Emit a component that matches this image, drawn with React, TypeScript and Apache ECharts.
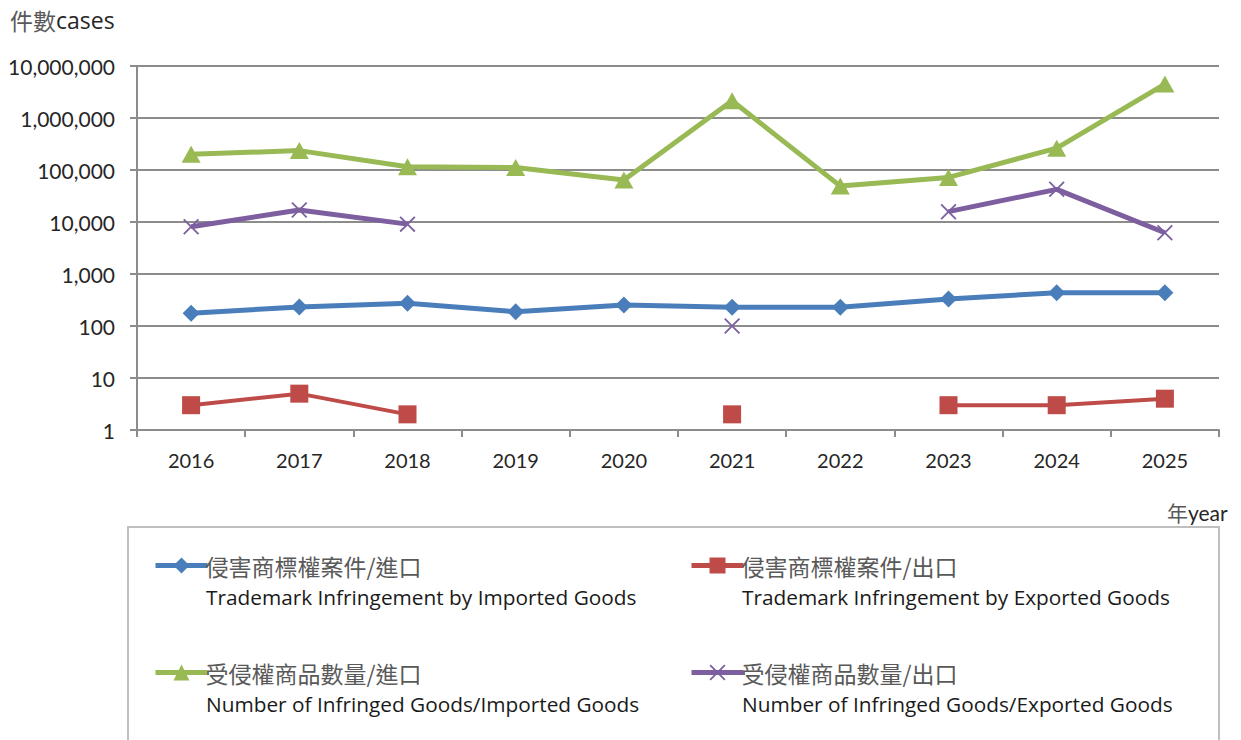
import React, { useEffect, useRef } from 'react';
import * as echarts from 'echarts';

const years = ['2016', '2017', '2018', '2019', '2020', '2021', '2022', '2023', '2024', '2025'];
const importCases = [175, 233, 274, 188, 253, 230, 230, 330, 436, 436];
const exportCases = [3, 5, 2, null, null, 2, null, 3, 3, 4];
const importGoods = [200000, 236000, 115000, 112000, 64000, 2150000, 49000, 72000, 263000, 4500000];
const exportGoods = [8100, 17000, 9100, null, null, 100, null, 15800, 42500, 6200];

const seriesNamesCn = ['侵害商標權案件/進口', '侵害商標權案件/出口', '受侵權商品數量/進口', '受侵權商品數量/出口'];
const seriesNamesEn = [
  'Trademark Infringement by Imported Goods',
  'Trademark Infringement by Exported Goods',
  'Number of Infringed Goods/Imported Goods',
  'Number of Infringed Goods/Exported Goods',
];
const colors = ['#4A7EBB', '#BE4B48', '#98B954', '#7D5FA0'];

const CROSS = 'path://M0,0.8L0.8,0L5,4.2L9.2,0L10,0.8L5.8,5L10,9.2L9.2,10L5,5.8L0.8,10L0,9.2L4.2,5Z';

const FONT = 'Lato, "Noto Sans", sans-serif';
const FONT2 = '"Open Sans", Lato, sans-serif';
const CJK = '"Noto Sans CJK TC", "Noto Sans CJK SC", sans-serif';

export default function App() {
  const ref = useRef<HTMLDivElement>(null);
  useEffect(() => {
    if (!ref.current) return;
    const chart = echarts.init(ref.current, null, { renderer: 'svg' });
    const legendPos = [
      { left: 153, top: 554 },
      { left: 689, top: 554 },
      { left: 153, top: 661 },
      { left: 689, top: 661 },
    ];
    const enPos = [
      { x: 206, y: 597 },
      { x: 742, y: 597 },
      { x: 206, y: 704 },
      { x: 742, y: 704 },
    ];
    const symbols = ['diamond', 'rect', 'triangle', CROSS];
    const symbolSizes = [[17, 17], [18, 18], [19, 17], [16, 16]];
    const lineWidths = [5, 4, 5, 5];
    const datas = [importCases, exportCases, importGoods, exportGoods];

    const option: any = {
      animation: false,
      backgroundColor: '#ffffff',
      grid: { left: 137, top: 66, width: 1082, height: 364, containLabel: false },
      xAxis: {
        type: 'category',
        data: years,
        boundaryGap: true,
        axisLine: { lineStyle: { color: '#8c8c8c', width: 2 } },
        axisTick: { show: true, length: 7, alignWithLabel: false, lineStyle: { color: '#8c8c8c', width: 2 } },
        axisLabel: { color: '#262626', fontSize: 20, fontFamily: FONT, margin: 20 },
        splitLine: { show: false },
      },
      yAxis: {
        type: 'log',
        logBase: 10,
        min: 1,
        max: 10000000,
        splitNumber: 7,
        axisLine: { show: true, lineStyle: { color: '#8c8c8c', width: 2 } },
        axisTick: { show: true, length: 7, lineStyle: { color: '#8c8c8c', width: 2 } },
        axisLabel: {
          color: '#262626',
          fontSize: 21,
          fontFamily: FONT,
          margin: 22,
          formatter: (v: number) => Math.round(v).toLocaleString('en-US'),
        },
        splitLine: { show: true, lineStyle: { color: '#8c8c8c', width: 2 } },
      },
      legend: legendPos.map((p, i) => ({
        show: true,
        data: [seriesNamesCn[i]],
        left: p.left,
        top: p.top,
        itemWidth: 52,
        itemHeight: 20,
        itemGap: 0,
        padding: 0,
        lineStyle: { width: 5 },
        textStyle: { color: '#595959', fontSize: 23, fontFamily: CJK, padding: [0, 0, 0, -7] },
        selectedMode: false,
      })),
      series: datas.map((d, i) => ({
        name: seriesNamesCn[i],
        type: 'line',
        data: d,
        connectNulls: false,
        showSymbol: true,
        showAllSymbol: true,
        symbol: symbols[i],
        symbolSize: symbolSizes[i],
        lineStyle: { color: colors[i], width: lineWidths[i] },
        itemStyle: { color: colors[i] },
        z: 2 + i,
      })),
      graphic: [
        {
          type: 'rect',
          shape: { x: 128, y: 527, width: 1091, height: 240 },
          style: { fill: 'none', stroke: '#bfbfbf', lineWidth: 2 },
          silent: true,
          z: -1,
        },
        {
          type: 'text',
          x: 10,
          y: 20,
          style: {
            text: '{cn|件數}{en|cases}',
            verticalAlign: 'middle',
            rich: {
              cn: { fontSize: 23, fontFamily: CJK, fill: '#595959' },
              en: { fontSize: 23, fontFamily: FONT2, fill: '#262626' },
            },
          },
        },
        {
          type: 'text',
          x: 1167,
          y: 512,
          style: {
            text: '{cn|年}{en|year}',
            verticalAlign: 'middle',
            rich: {
              cn: { fontSize: 21, fontFamily: CJK, fill: '#595959' },
              en: { fontSize: 21, fontFamily: FONT, fill: '#262626' },
            },
          },
        },
        ...enPos.map((p, i) => ({
          type: 'text',
          x: p.x,
          y: p.y,
          style: {
            text: seriesNamesEn[i],
            fontSize: 20.8,
            fontFamily: FONT2,
            fill: '#1a1a1a',
            verticalAlign: 'middle',
          },
        })),
      ],
    };
    chart.setOption(option);
    return () => chart.dispose();
  }, []);
  return (
    <div
      ref={ref}
      style={{ position: 'fixed', left: 0, top: 0, width: 1241, height: 740, background: '#fff' }}
    />
  );
}
